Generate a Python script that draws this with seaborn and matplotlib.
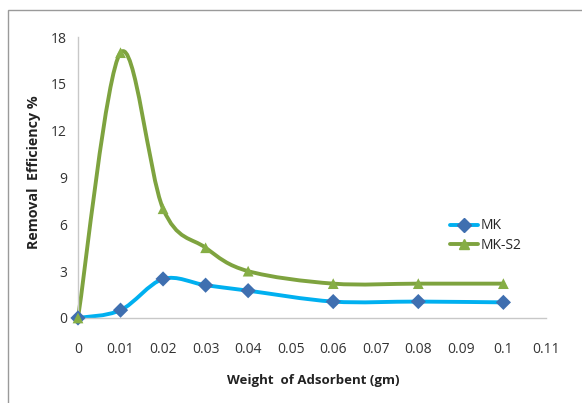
import numpy as np
import pandas as pd
import matplotlib
matplotlib.use("Agg")
import matplotlib.pyplot as plt
import seaborn as sns
from matplotlib.path import Path
from matplotlib.patches import PathPatch, Rectangle
from matplotlib.lines import Line2D

weights = [0, 0.01, 0.02, 0.03, 0.04, 0.06, 0.08, 0.1]
mk = [0.0, 0.5, 2.5, 2.1, 1.75, 1.05, 1.05, 1.0]
mk_s2 = [0.0, 17.0, 7.0, 4.5, 3.0, 2.2, 2.2, 2.2]
xticks = [0, 0.01, 0.02, 0.03, 0.04, 0.05, 0.06, 0.07, 0.08, 0.09, 0.1, 0.11]
xtick_labels = ["0", "0.01", "0.02", "0.03", "0.04", "0.05", "0.06", "0.07", "0.08", "0.09", "0.1", "0.11"]
yticks = [0, 3, 6, 9, 12, 15, 18]

df = pd.DataFrame({"w": weights * 2, "v": mk + mk_s2,
                   "s": ["MK"] * len(mk) + ["MK-S2"] * len(mk_s2)})

sns.set_theme(style="white")
plt.rcParams['font.family'] = ['Open Sans', 'DejaVu Sans']

fig = plt.figure(figsize=(5.82, 4.03), dpi=100)
ax = fig.add_axes([0.134, 0.211, 0.804, 0.697])

line_cols = {"MK": "#00B0F0", "MK-S2": "#7EA33F"}
mark_cols = {"MK": "#3F6FB0", "MK-S2": "#86AE45"}
markers = {"MK": "D", "MK-S2": "^"}


def smooth_path(xs, ys):
    pts = list(zip(xs, ys))
    verts = [pts[0]]
    codes = [Path.MOVETO]
    n = len(pts)
    for i in range(n - 1):
        p0 = pts[i - 1] if i > 0 else pts[i]
        p1 = pts[i]
        p2 = pts[i + 1]
        p3 = pts[i + 2] if i + 2 < n else pts[i + 1]
        c1 = (p1[0] + (p2[0] - p0[0]) / 6, p1[1] + (p2[1] - p0[1]) / 6)
        c2 = (p2[0] - (p3[0] - p1[0]) / 6, p2[1] - (p3[1] - p1[1]) / 6)
        verts += [c1, c2, p2]
        codes += [Path.CURVE4] * 3
    return Path(verts, codes)


for name, vals in [("MK", mk), ("MK-S2", mk_s2)]:
    patch = PathPatch(smooth_path(weights, vals), facecolor="none",
                      edgecolor=line_cols[name], lw=2.8, zorder=2,
                      capstyle="round", joinstyle="round")
    patch.set_clip_on(False)
    ax.add_patch(patch)

sns.scatterplot(data=df, x="w", y="v", hue="s", style="s",
                palette=mark_cols, markers=markers, s=60,
                edgecolor="none", ax=ax, legend=False, zorder=3)
for coll in ax.collections:
    coll.set_clip_on(False)

ax.set_xlim(0, 0.11)
ax.set_ylim(0, 18)
ax.set_xticks(xticks)
ax.set_xticklabels(xtick_labels)
ax.set_yticks(yticks)
ax.tick_params(axis="both", length=0, labelsize=10, colors="#333333")
ax.tick_params(axis="x", pad=17)
ax.tick_params(axis="y", pad=8)
for sp in ["top", "right"]:
    ax.spines[sp].set_visible(False)
ax.spines["left"].set_color("#C8C8C8")
ax.spines["bottom"].set_color("#C8C8C8")
ax.spines["left"].set_linewidth(1.0)
ax.spines["bottom"].set_linewidth(1.0)
ax.set_xlabel("Weight  of Adsorbent (gm)", fontsize=9.5, fontweight="bold",
              color="#222222")
ax.set_ylabel("Removal  Efficiency %", fontsize=10.3, fontweight="bold",
              color="#222222")
ax.xaxis.set_label_coords(0.502, -0.2)
ax.yaxis.set_label_coords(-0.079, 0.52)

handles = [Line2D([0], [0], color=line_cols[n], lw=2.8, marker=markers[n],
                  markerfacecolor=mark_cols[n], markeredgecolor=mark_cols[n],
                  markersize=7.5) for n in ["MK", "MK-S2"]]
ax.legend(handles, ["MK", "MK-S2"], loc="upper left",
          bbox_to_anchor=(0.769, 0.399), frameon=False, fontsize=10,
          handlelength=2.0, handletextpad=0.15, labelspacing=0.35)

fig.patches.append(Rectangle((8 / 582, -0.1), 1.2, 1 - 10 / 403 + 0.1,
                             transform=fig.transFigure, fill=False,
                             edgecolor="#9A9A9A", lw=1.0))

fig.savefig("out.png", dpi=100)
